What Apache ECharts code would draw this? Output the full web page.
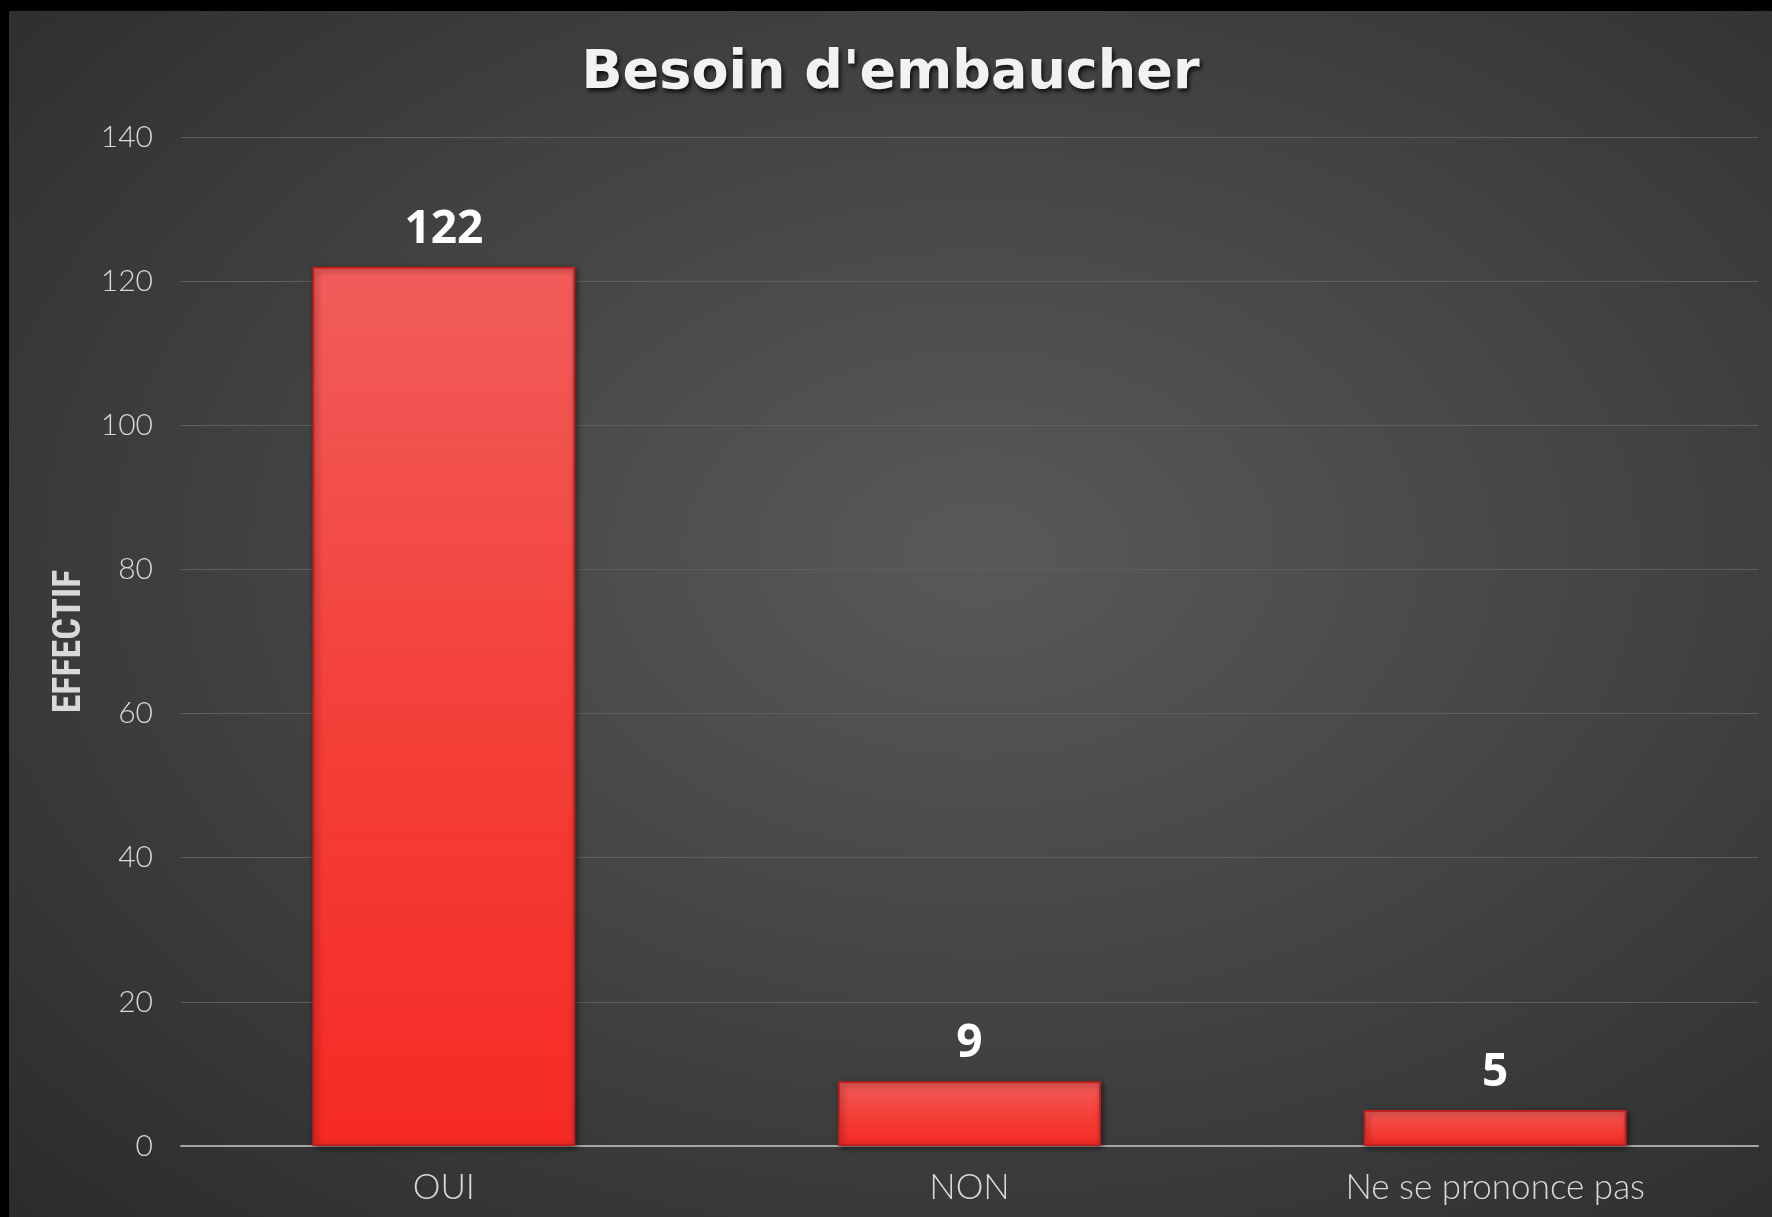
<!DOCTYPE html>
<html>
<head>
<meta charset="utf-8">
<script src="https://cdn.jsdelivr.net/npm/echarts@6/dist/echarts.min.js"></script>
<style>
  html, body { margin: 0; padding: 0; background: #000; }
  #chart {
    position: absolute; left: 9px; top: 11px;
    width: 1763px; height: 1206px;
    background: radial-gradient(ellipse at 55% 45%, #595959 0%, #454545 45%, #2b2b2b 100%);
  }
</style>
</head>
<body>
<div id="chart"></div>
<script>
// données
var categories = ['OUI', 'NON', 'Ne se prononce pas']
var values = [122, 9, 5]
var yTicks = { min: 0, max: 140, interval: 20 }

var chart = echarts.init(document.getElementById('chart'))

var labelGrey = '#d9d9d9'

var option = {
	animation: false,
	title: {
		text: "Besoin d'embaucher",
		left: 'center',
		top: 31,
		textStyle: {
			fontFamily: 'DejaVu Sans',
			fontWeight: 'bold',
			fontSize: 54,
			color: '#f2f2f2',
			textShadowColor: 'rgba(0,0,0,0.8)',
			textShadowBlur: 4,
			textShadowOffsetX: 2,
			textShadowOffsetY: 3
		}
	},
	grid: {
		left: 172,
		right: 14,
		top: 126,
		bottom: 71
	},
	xAxis: {
		type: 'category',
		data: categories,
		axisTick: { show: false },
		axisLine: { lineStyle: { color: '#a6a6a6', width: 2 } },
		axisLabel: {
			color: labelGrey,
			fontFamily: 'Lato',
			fontWeight: 300,
			fontSize: 35,
			margin: 24
		}
	},
	yAxis: {
		type: 'value',
		min: yTicks.min,
		max: yTicks.max,
		interval: yTicks.interval,
		name: 'EFFECTIF',
		nameLocation: 'middle',
		nameGap: 88,
		nameTextStyle: {
			color: labelGrey,
			fontFamily: 'Roboto Condensed, Roboto',
			fontWeight: 'bold',
			fontSize: 38
		},
		axisLine: { show: false },
		axisTick: { show: false },
		splitLine: { lineStyle: { color: '#5e5e5e', width: 1 } },
		axisLabel: {
			color: labelGrey,
			fontFamily: 'Lato',
			fontWeight: 300,
			fontSize: 30,
			margin: 28
		}
	},
	series: [{
		type: 'bar',
		data: values,
		barWidth: '50%',
		itemStyle: {
			color: new echarts.graphic.LinearGradient(0, 0, 0, 1, [
				{ offset: 0, color: '#f15d5b' },
				{ offset: 0.5, color: '#f4403a' },
				{ offset: 1, color: '#f62a24' }
			]),
			borderColor: '#c42020',
			borderWidth: 2,
			shadowColor: 'rgba(0,0,0,0.5)',
			shadowBlur: 6,
			shadowOffsetX: 2,
			shadowOffsetY: 2
		},
		label: {
			show: true,
			position: 'top',
			distance: 14,
			color: '#ffffff',
			fontFamily: 'Open Sans',
			fontWeight: 'bold',
			fontSize: 46
		}
	}]
}

chart.setOption(option)
</script>
</body>
</html>
